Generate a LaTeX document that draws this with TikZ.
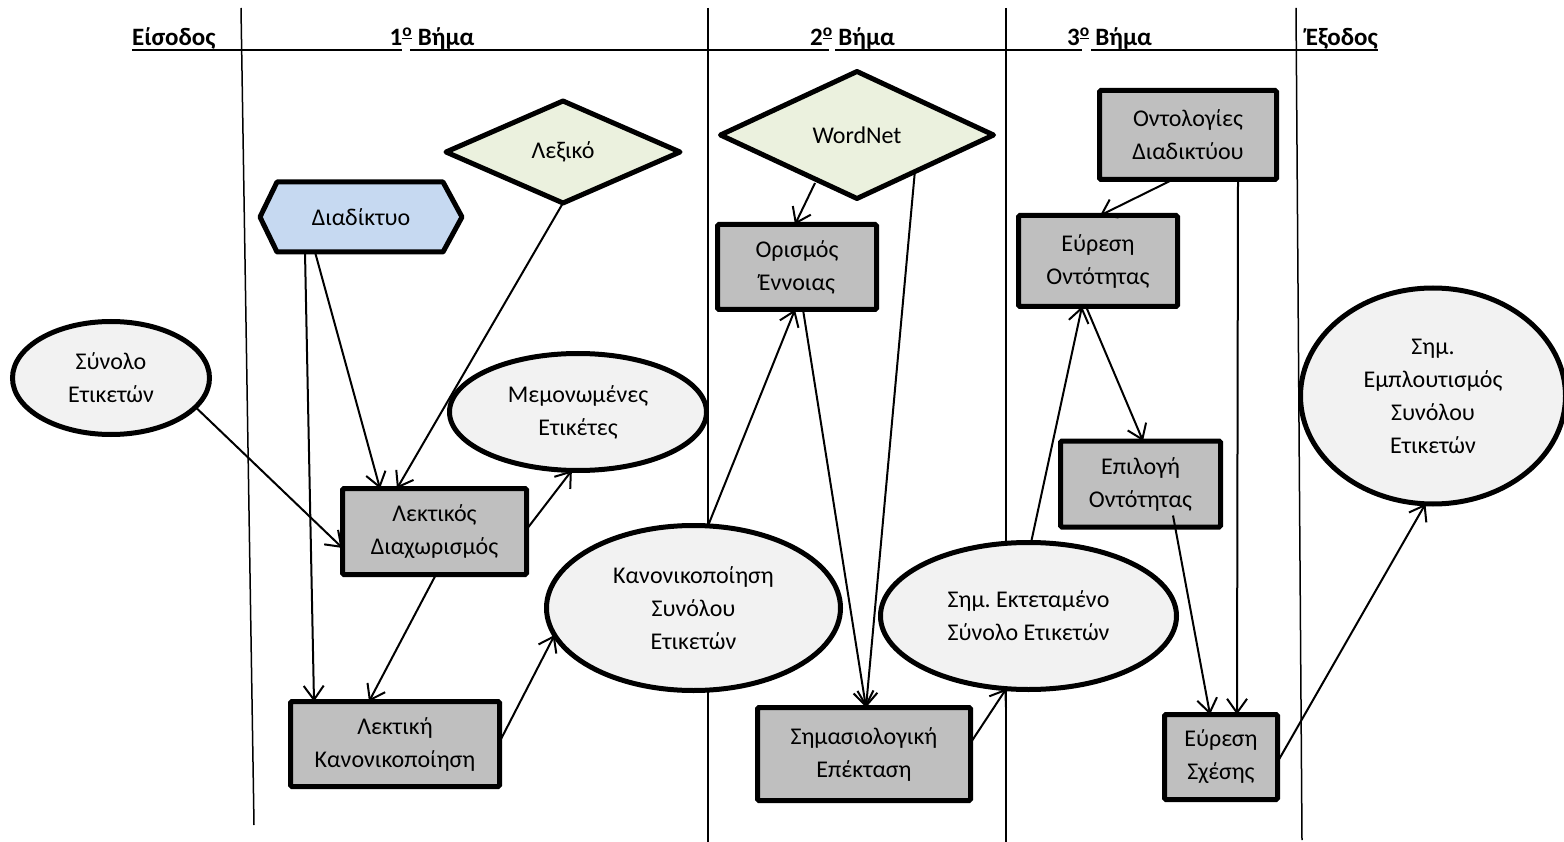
\documentclass[tikz,border=0pt]{standalone}
\usepackage{fontspec}
\setmainfont{Carlito}
\usetikzlibrary{arrows.meta,shapes.geometric,backgrounds}
\definecolor{boxgray}{HTML}{BFBFBF}
\definecolor{ovalgray}{HTML}{F2F2F2}
\definecolor{sourcegreen}{HTML}{EBF1DE}
\definecolor{webblue}{HTML}{C6D9F1}
\newcommand{\ordo}{\textsuperscript{\underline{ο}}}
\begin{document}
\begin{tikzpicture}[x=1pt,y=-1pt,
  txt/.style={font=\fontsize{24}{33}\selectfont, align=center, inner sep=0pt, outer sep=0pt},
  proc/.style={txt, rectangle, draw, line width=5pt, rounded corners=1.5pt, fill=boxgray},
  data/.style={txt, ellipse, draw, line width=5pt, fill=ovalgray},
  src/.style={txt, rectangle},
  outline/.style={line width=5pt, line join=round},
  arr/.style={line width=2pt, -{Straight Barb[length=14pt,width=20pt]}},
  head/.style={font=\fontsize{25}{28}\selectfont\bfseries, inner sep=0pt},
  lane/.style={line width=1.5pt},
  rule/.style={line width=2.5pt},
]
\useasboundingbox (0,0) rectangle (1564,842);

% column separators
\draw[lane] (241,8) -- (254,825);
\draw[lane] (708,8) -- (708,842);
\draw[lane] (1006,8) -- (1006,842);
\draw[lane] (1296,8) -- (1302,840);

% column headings with their underline
\node[head, anchor=base west] (hin) at (132,46) {Είσοδος};
\node[head, anchor=base] (h1) at (432,46) {1\ordo{} Βήμα};
\node[head, anchor=base] (h2) at (852.5,46) {2\ordo{} Βήμα};
\node[head, anchor=base] (h3) at (1109.5,46) {3\ordo{} Βήμα};
\node[head, anchor=base east] (hout) at (1378,46) {Έξοδος};
\draw[rule] (132,50) -- (402,50);
\draw[rule] (410,50) -- (829,50);
\draw[rule] (835,50) -- (1082,50);
\draw[rule] (1091,50) -- (1378,50);

% external sources (outlines drawn on the background layer)
\node[src, minimum width=202pt, minimum height=70pt] (web) at (361,217) {Διαδίκτυο};
\node[src, minimum width=234pt, minimum height=102pt] (lex) at (563,152) {Λεξικό};
\node[src, minimum width=273pt, minimum height=127pt] (wn) at (857,135) {WordNet};
\begin{scope}[on background layer]
  \draw[outline, fill=webblue] (web.west) -- ([xshift=17]web.north west) -- ([xshift=-19]web.north east)
    -- (web.east) -- ([xshift=-19]web.south east) -- ([xshift=17]web.south west) -- cycle;
  \draw[outline, fill=sourcegreen] (lex.west) -- (lex.north) -- (lex.east) -- (lex.south) -- cycle;
  \draw[outline, fill=sourcegreen] (wn.west) -- (wn.north) -- (wn.east) -- (wn.south) -- cycle;
\end{scope}

% tag sets
\node[data, minimum width=197pt, minimum height=113pt] (syn) at (111,378) {Σύνολο\\Ετικετών};
\node[data, minimum width=257pt, minimum height=117pt] (mem) at (578,412) {Μεμονωμένες\\Ετικέτες};
\node[data, minimum width=294pt, minimum height=165pt] (kan) at (693.5,608) {Κανονικοποίηση\\Συνόλου\\Ετικετών};
\node[data, minimum width=296pt, minimum height=147pt] (sek) at (1028.5,616) {Σημ.\ Εκτεταμένο\\Σύνολο Ετικετών};
\node[data, minimum width=265pt, minimum height=216pt] (emp) at (1433,396) {Σημ.\\Εμπλουτισμός\\Συνόλου\\Ετικετών};

% processing steps
\node[proc, minimum width=184pt, minimum height=86pt] (lexd) at (434.5,531.5) {Λεκτικός\\Διαχωρισμός};
\node[proc, minimum width=209pt, minimum height=85pt] (lexk) at (395,744) {Λεκτική\\Κανονικοποίηση};
\node[proc, minimum width=159pt, minimum height=85pt] (oris) at (797,267) {Ορισμός\\Έννοιας};
\node[proc, minimum width=213pt, minimum height=93pt] (sim) at (864,754) {Σημασιολογική\\Επέκταση};
\node[proc, minimum width=177pt, minimum height=89pt] (ont) at (1188,135) {Οντολογίες\\Διαδικτύου};
\node[proc, minimum width=159pt, minimum height=91pt] (evo) at (1098,261) {Εύρεση\\Οντότητας};
\node[proc, minimum width=160pt, minimum height=86pt] (epi) at (1140.5,484) {Επιλογή\\Οντότητας};
\node[proc, minimum width=113pt, minimum height=85pt] (evs) at (1221,757) {Εύρεση\\Σχέσης};

% step 1
\draw[arr] ([xshift=-46]web.south) -- ([xshift=-54.5]lexd.north);
\draw[arr] ([xshift=-56]web.south) -- ([xshift=-81]lexk.north);
\draw[arr] (lex.south) -- ([xshift=-37.5]lexd.north);
\draw[arr] (syn.-19) -- ([yshift=-16.5]lexd.west);
\draw[arr] ([yshift=2]lexd.east) -- (mem.-96);
\draw[arr] ([xshift=1.5]lexd.south) -- ([xshift=-26]lexk.north);
\draw[arr] ([yshift=2]lexk.east) -- (kan.191);

% step 2
\draw[arr] (kan.80) -- ([xshift=-2]oris.south);
\draw[arr] ([xshift=-42,yshift=-48]wn.center) -- ([xshift=-2]oris.north);
\draw[arr] ([xshift=6]oris.south) -- ([xshift=2]sim.north);
\draw[arr] ([xshift=58,yshift=-35]wn.center) -- ([xshift=2]sim.north);
\draw[arr] ([yshift=11]sim.east) -- (sek.-107);

% step 3
\draw[arr] (sek.88) -- ([xshift=-16]evo.south);
\draw[arr] ([xshift=-15]ont.south) -- ([xshift=2]evo.north);
\draw[arr] ([xshift=-12]evo.south) -- ([xshift=2.5]epi.north);
\draw[arr] ([xshift=50]ont.south) -- ([xshift=16]evs.north);
\draw[arr] ([xshift=32.5,yshift=-31.5]epi.center) -- ([xshift=-11]evs.north);

% output
\draw[arr] ([yshift=-5]evs.east) -- (emp.-94);
\end{tikzpicture}
\end{document}
